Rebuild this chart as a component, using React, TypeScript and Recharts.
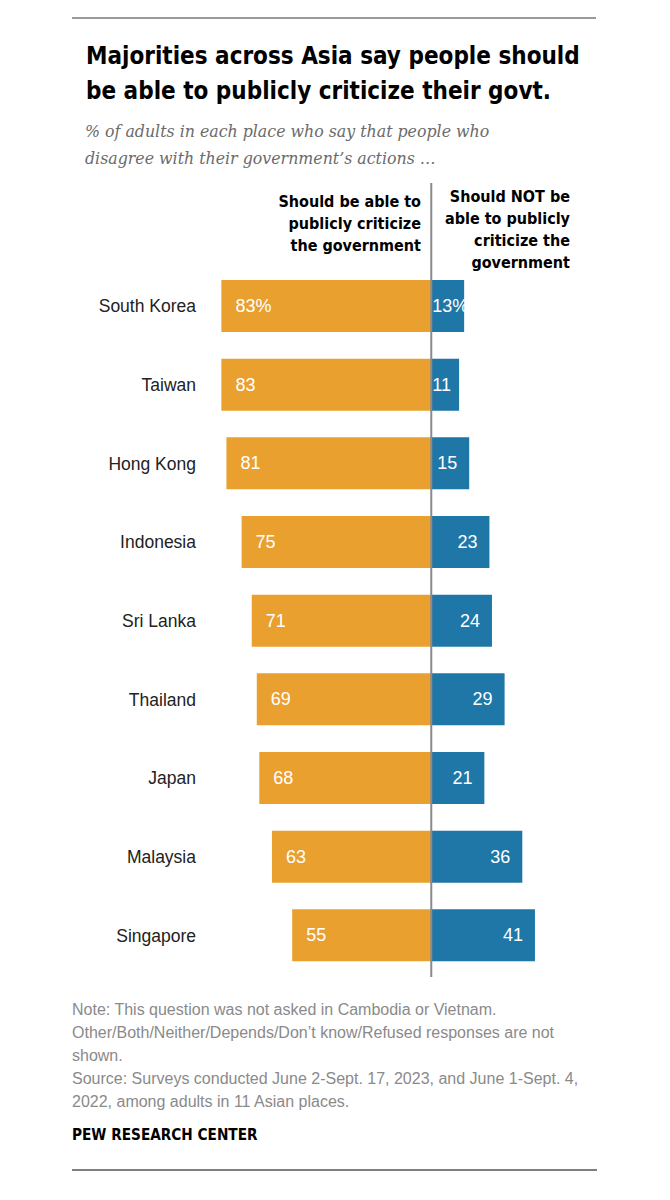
import React from "react";
import { BarChart, Bar, XAxis, YAxis, ReferenceLine, LabelList } from "recharts";

// Survey results: share of adults in each place
const places = [
  "South Korea",
  "Taiwan",
  "Hong Kong",
  "Indonesia",
  "Sri Lanka",
  "Thailand",
  "Japan",
  "Malaysia",
  "Singapore",
];
const shouldBeAble = [83, 83, 81, 75, 71, 69, 68, 63, 55];
const shouldNotBeAble = [13, 11, 15, 23, 24, 29, 21, 36, 41];

const titleLines = [
  "Majorities across Asia say people should",
  "be able to publicly criticize their govt.",
];
const subtitleLines = [
  "% of adults in each place who say that people who",
  "disagree with their government\u2019s actions \u2026",
];
const leftHeader = ["Should be able to", "publicly criticize", "the government"];
const rightHeader = ["Should NOT be", "able to publicly", "criticize the", "government"];
const noteLines = [
  "Note: This question was not asked in Cambodia or Vietnam.",
  "Other/Both/Neither/Depends/Don\u2019t know/Refused responses are not",
  "shown.",
  "Source: Surveys conducted June 2-Sept. 17, 2023, and June 1-Sept. 4,",
  "2022, among adults in 11 Asian places.",
];
const brand = "PEW RESEARCH CENTER";

const data = places.map((place, i) => ({
  place,
  able: -shouldBeAble[i],
  notAble: shouldNotBeAble[i],
  ableValue: shouldBeAble[i],
  notAbleValue: shouldNotBeAble[i],
}));

const ORANGE = "#E9A02F";
const BLUE = "#1F77A8";
const NARROW = "'DejaVu Sans Condensed', 'Liberation Sans Narrow', sans-serif";
const SANS = "'Liberation Sans', Arial, sans-serif";
const SERIF = "'DejaVu Serif', Georgia, serif";

const fmt = (v: number, index: number) => (index === 0 ? `${v}%` : `${v}`);

const AbleLabel = (props: any) => {
  const { x, y, width, height, value, index } = props;
  const left = Math.min(Number(x), Number(x) + Number(width));
  return (
    <text
      x={left + 14}
      y={Number(y) + Number(height) / 2}
      dominantBaseline="central"
      fill="#fff"
      fontFamily={SANS}
      fontSize={18}
    >
      {fmt(value, index)}
    </text>
  );
};

const NotAbleLabel = (props: any) => {
  const { x, y, width, height, value, index } = props;
  const left = Math.min(Number(x), Number(x) + Number(width));
  const right = left + Math.abs(Number(width));
  const label = fmt(value, index);
  const est = String(value).length * 10 + (label.endsWith("%") ? 16 : 0);
  const start = Math.max(left + 1, right - 12 - est);
  return (
    <text
      x={start}
      y={Number(y) + Number(height) / 2}
      dominantBaseline="central"
      fill="#fff"
      fontFamily={SANS}
      fontSize={18}
    >
      {label}
    </text>
  );
};

const PlaceTick = (props: any) => {
  const { x, y, payload } = props;
  return (
    <text
      x={x}
      y={y}
      textAnchor="end"
      dominantBaseline="central"
      fill="#222"
      fontFamily={SANS}
      fontSize={17.5}
    >
      {payload.value}
    </text>
  );
};

// Zero line runs up through the column headers
const CenterLine = (props: any) => {
  const { x1, y1, x2, y2 } = props;
  const top = Math.min(Number(y1), Number(y2));
  const bottom = Math.max(Number(y1), Number(y2));
  return (
    <line x1={x1} x2={x2} y1={top - 84} y2={bottom + 2} stroke="#8a8a8a" strokeWidth={2} />
  );
};

export default function App() {
  return (
    <div style={{ position: "absolute", left: 0, top: 0, width: 670, height: 1200, background: "#fff" }}>
      <div style={{ position: "absolute", left: 0, top: 0 }}>
        <BarChart
          width={670}
          height={990}
          data={data}
          layout="vertical"
          stackOffset="sign"
          margin={{ top: 267, right: 87, bottom: 15, left: 0 }}
          barSize={52}
        >
          <XAxis type="number" domain={[-87.5, 60]} hide allowDataOverflow />
          <YAxis
            type="category"
            dataKey="place"
            width={210}
            axisLine={false}
            tickLine={false}
            tickSize={0}
            tickMargin={14}
            tick={<PlaceTick />}
          />
          <Bar dataKey="able" stackId="s" fill={ORANGE} isAnimationActive={false}>
            <LabelList dataKey="ableValue" content={<AbleLabel />} />
          </Bar>
          <Bar dataKey="notAble" stackId="s" fill={BLUE} isAnimationActive={false}>
            <LabelList dataKey="notAbleValue" content={<NotAbleLabel />} />
          </Bar>
          <ReferenceLine x={0} shape={<CenterLine />} />
        </BarChart>
      </div>
      <svg
        width={670}
        height={1200}
        style={{ position: "absolute", left: 0, top: 0, pointerEvents: "none" }}
      >
        <line x1={72} x2={596} y1={18} y2={18} stroke="#9a9a9a" strokeWidth={2} />
        {titleLines.map((t, i) => (
          <text
            key={t}
            x={86}
            y={64 + i * 35}
            fontFamily={NARROW}
            fontWeight={700}
            fontSize={24}
            fill="#000"
          >
            {t}
          </text>
        ))}
        {subtitleLines.map((t, i) => (
          <text
            key={t}
            x={85}
            y={137 + i * 27}
            fontFamily={SERIF}
            fontStyle="italic"
            fontSize={15.8}
            fill="#6b6b6b"
          >
            {t}
          </text>
        ))}
        {leftHeader.map((t, i) => (
          <text
            key={t}
            x={421}
            y={207 + i * 22}
            textAnchor="end"
            fontFamily={NARROW}
            fontWeight={700}
            fontSize={16}
            fill="#000"
          >
            {t}
          </text>
        ))}
        {rightHeader.map((t, i) => (
          <text
            key={t}
            x={570}
            y={202 + i * 22}
            textAnchor="end"
            fontFamily={NARROW}
            fontWeight={700}
            fontSize={16}
            fill="#000"
          >
            {t}
          </text>
        ))}
        {noteLines.map((t, i) => (
          <text key={t} x={72} y={1015 + i * 23} fontFamily={SANS} fontSize={16} fill="#8a8a8a">
            {t}
          </text>
        ))}
        <text x={72} y={1140} fontFamily={NARROW} fontWeight={700} fontSize={15.2} fill="#000">
          {brand}
        </text>
        <line x1={72} x2={597} y1={1170} y2={1170} stroke="#555" strokeWidth={1.5} />
      </svg>
    </div>
  );
}
